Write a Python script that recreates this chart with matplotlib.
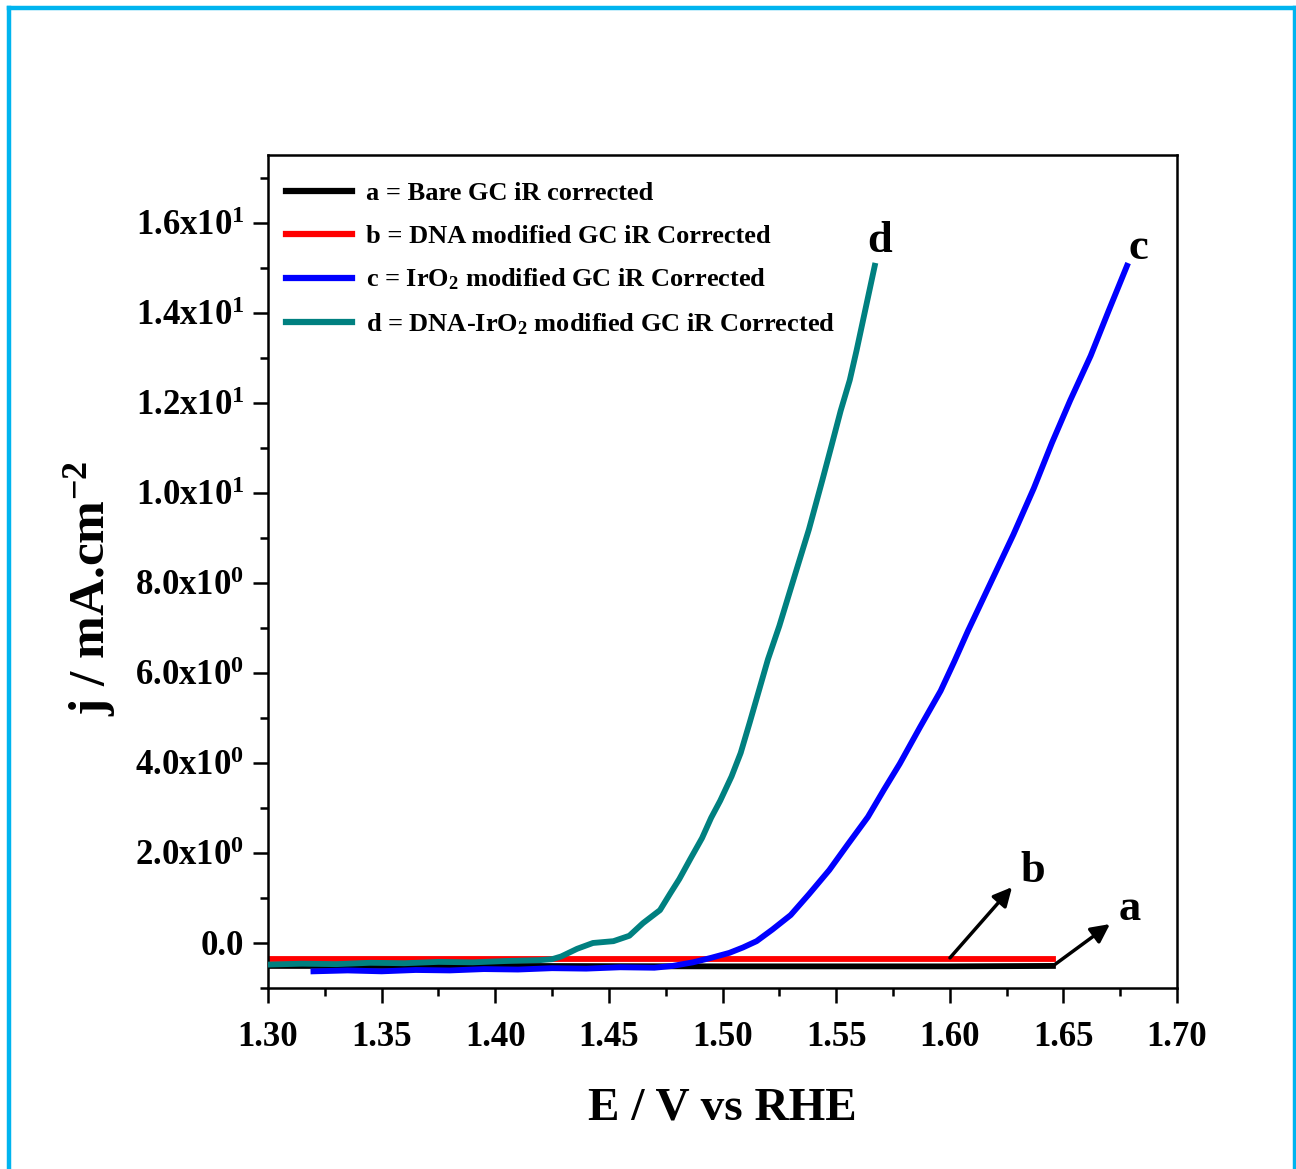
import matplotlib.pyplot as plt
from matplotlib.lines import Line2D
from matplotlib.ticker import FixedLocator, FixedFormatter, MultipleLocator

plt.rcParams['font.family'] = ['Liberation Serif', 'DejaVu Serif']
plt.rcParams['font.weight'] = 'bold'
plt.rcParams['mathtext.fontset'] = 'custom'
plt.rcParams['mathtext.rm'] = 'Liberation Serif:bold'
plt.rcParams['mathtext.it'] = 'Liberation Serif:bold'
plt.rcParams['mathtext.bf'] = 'Liberation Serif:bold'

# curve a: bare GC
e_a = [1.30, 1.40, 1.50, 1.60, 1.6454]
j_a = [-0.51, -0.51, -0.52, -0.52, -0.51]

# curve b: DNA modified GC
e_b = [1.30, 1.40, 1.50, 1.60, 1.6454]
j_b = [-0.36, -0.36, -0.36, -0.36, -0.36]

# curve c: IrO2 modified GC
e_c = [1.320, 1.335, 1.350, 1.365, 1.380, 1.395, 1.410, 1.425, 1.440, 1.455,
       1.470, 1.478, 1.487, 1.495, 1.503, 1.509, 1.515, 1.522, 1.530, 1.538,
       1.547, 1.555, 1.564, 1.571, 1.578, 1.587, 1.596, 1.602, 1.608, 1.618,
       1.628, 1.637, 1.645, 1.653, 1.662, 1.670, 1.678]
j_c = [-0.63, -0.61, -0.63, -0.60, -0.61, -0.58, -0.59, -0.56, -0.57, -0.54,
       -0.55, -0.51, -0.43, -0.33, -0.22, -0.10, 0.04, 0.30, 0.62, 1.08,
       1.62, 2.18, 2.80, 3.40, 3.98, 4.80, 5.60, 6.25, 6.93, 8.00,
       9.07, 10.10, 11.11, 12.05, 13.04, 14.05, 15.04]

# curve d: DNA-IrO2 modified GC
e_d = [1.300, 1.315, 1.330, 1.345, 1.360, 1.375, 1.390, 1.405, 1.420, 1.425,
       1.429, 1.436, 1.443, 1.452, 1.459, 1.465, 1.4725, 1.477, 1.481, 1.486,
       1.491, 1.495, 1.499, 1.504, 1.508, 1.512, 1.516, 1.520, 1.525, 1.529,
       1.533, 1.538, 1.544, 1.548, 1.552, 1.556, 1.559, 1.563, 1.567]
j_d = [-0.48, -0.46, -0.47, -0.44, -0.45, -0.42, -0.43, -0.40, -0.38, -0.36,
       -0.30, -0.13, 0.00, 0.04, 0.16, 0.44, 0.73, 1.10, 1.42, 1.88,
       2.33, 2.78, 3.16, 3.70, 4.22, 4.90, 5.60, 6.30, 7.04, 7.70,
       8.36, 9.18, 10.29, 11.05, 11.82, 12.50, 13.16, 14.10, 15.04]

labels = ['a = Bare GC iR corrected',
          'b = DNA modified GC iR Corrected',
          r'c = IrO$_{2}$ modified GC iR Corrected',
          r'd = DNA-IrO$_{2}$ modified GC iR Corrected']
colors = ['black', '#ff0000', '#0000ff', '#008080']

y_ticks = [0, 2, 4, 6, 8, 10, 12, 14, 16]
y_ticklabels = ['0.0', r'$2.0x10^{0}$', r'$4.0x10^{0}$', r'$6.0x10^{0}$',
                r'$8.0x10^{0}$', r'$1.0x10^{1}$', r'$1.2x10^{1}$',
                r'$1.4x10^{1}$', r'$1.6x10^{1}$']

fig = plt.figure(figsize=(12.96, 11.69), dpi=100)
ax = fig.add_axes([268/1296, 1-988/1169, 909/1296, 833/1169])

ax.plot(e_a, j_a, color=colors[0], lw=4.2, label=labels[0], zorder=3)
ax.plot(e_b, j_b, color=colors[1], lw=4.2, label=labels[1], zorder=2)
ax.plot(e_c, j_c, color=colors[2], lw=4.2, label=labels[2], zorder=4)
ax.plot(e_d, j_d, color=colors[3], lw=4.2, label=labels[3], zorder=5)

ax.set_xlim(1.30, 1.70)
ax.set_ylim(-1.0, 17.5)

ax.xaxis.set_major_locator(MultipleLocator(0.05))
ax.xaxis.set_minor_locator(MultipleLocator(0.025))
ax.xaxis.set_major_formatter(plt.FormatStrFormatter('%.2f'))
ax.yaxis.set_major_locator(FixedLocator(y_ticks))
ax.yaxis.set_major_formatter(FixedFormatter(y_ticklabels))
ax.yaxis.set_minor_locator(MultipleLocator(1))

ax.tick_params(which='both', direction='out', width=1.8, top=False, right=False)
ax.tick_params(which='major', length=11, labelsize=25, pad=6)
ax.tick_params(axis='x', which='major', pad=13)
ax.tick_params(which='minor', length=6)
for lab in ax.get_xticklabels() + ax.get_yticklabels():
    lab.set_fontweight('bold')
for sp in ax.spines.values():
    sp.set_linewidth(1.8)

ax.set_xlabel('E / V vs RHE', fontsize=34, fontweight='bold', labelpad=24)
ax.set_ylabel(r'j / mA.cm$^{-2}$', fontsize=37, fontweight='bold')
ax.yaxis.set_label_coords(-0.165, 0.48)

leg = ax.legend(loc='upper left', frameon=False, fontsize=19, handlelength=2.5,
                handletextpad=0.5, labelspacing=0.72, borderaxespad=0.3,
                bbox_to_anchor=(0.0, 0.99))
for line in leg.get_lines():
    line.set_linewidth(4.5)

# curve letters and arrows
ax.text(1.5693, 15.15, 'd', fontsize=32, fontweight='bold', ha='center', va='bottom')
ax.text(1.6828, 15.0, 'c', fontsize=32, fontweight='bold', ha='center', va='bottom')
ax.text(1.6366, 1.15, 'b', fontsize=32, fontweight='bold', ha='center', va='bottom')
ax.text(1.6793, 0.3, 'a', fontsize=32, fontweight='bold', ha='center', va='bottom')
ax.annotate('', xy=(1.6274, 1.24), xytext=(1.6001, -0.33),
            arrowprops=dict(arrowstyle='-|>', color='black', lw=2.5,
                            mutation_scale=28, shrinkA=0, shrinkB=0))
ax.annotate('', xy=(1.6705, 0.42), xytext=(1.6454, -0.51),
            arrowprops=dict(arrowstyle='-|>', color='black', lw=2.5,
                            mutation_scale=28, shrinkA=0, shrinkB=0))

# light blue frame around the picture
bc = '#00b4ef'
fig.add_artist(Line2D([9/1296, 9/1296], [0, 1-8/1169], color=bc, lw=3.2))
fig.add_artist(Line2D([9/1296, 1294.5/1296], [1-8/1169, 1-8/1169], color=bc, lw=3.2))
fig.add_artist(Line2D([1294.5/1296, 1294.5/1296], [0, 1-8/1169], color=bc, lw=3.2))

fig.savefig('out.png', dpi=100)
